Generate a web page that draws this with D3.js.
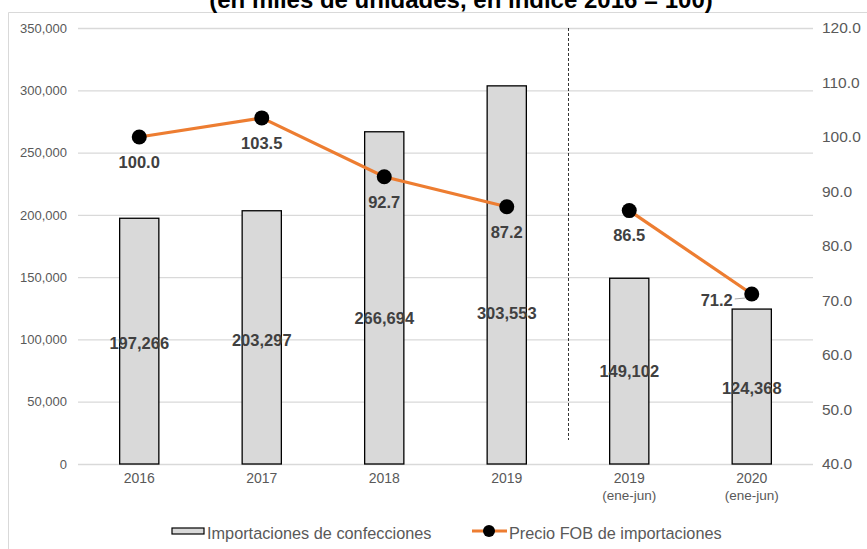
<!DOCTYPE html>
<html><head><meta charset="utf-8">
<script src="https://cdn.jsdelivr.net/npm/d3@7"></script>
<style>body{margin:0;background:#fff}svg{display:block;font-family:"Liberation Sans",Arial,sans-serif}</style>
</head><body><svg id="c" width="867" height="549"></svg>
<script>
const categories = ["2016","2017","2018","2019","2019\n(ene-jun)","2020\n(ene-jun)"];
const imports = [197266, 203297, 266694, 303553, 149102, 124368];
const price = [100.0, 103.5, 92.7, 87.2, 86.5, 71.2];
const priceSegments = [[0,1,2,3],[4,5]];
const leftTicks = [0,50000,100000,150000,200000,250000,300000,350000];
const rightTicks = [40,50,60,70,80,90,100,110,120];
const seriesNames = ["Importaciones de confecciones","Precio FOB de importaciones"];
const title = "(en miles de unidades, en índice 2016 = 100)";

const svg = d3.select("#c");
const L = 78, R = 813, T = 28, B = 464;
const x = d3.scaleBand().domain(d3.range(categories.length)).range([L, R]).paddingInner(0.68).paddingOuter(0.34);
const yL = d3.scaleLinear().domain([0,350000]).range([B,T]);
const yR = d3.scaleLinear().domain([40,120]).range([B,T]);
const cx = i => x(i) + x.bandwidth()/2;

// border
svg.append("path").attr("d","M8.5,549 V12.5 H867").attr("fill","none").attr("stroke","#d9d9d9");
// title
svg.append("text").attr("x",461).attr("y",8).attr("text-anchor","middle").attr("font-weight","bold").attr("font-size",24).attr("fill","#000").text(title);

// gridlines via left axis
const gl = svg.append("g").attr("transform",`translate(${L},0)`)
  .call(d3.axisLeft(yL).tickValues(leftTicks).tickSize(-(R-L)).tickFormat(d3.format(",")).tickPadding(11));
gl.select(".domain").remove();
gl.selectAll("line").attr("stroke","#d9d9d9").attr("stroke-width",1.3);
gl.selectAll("text").attr("fill","#595959").attr("font-size",13).attr("font-family","Liberation Sans, Arial");

const gr = svg.append("g").attr("transform",`translate(${R},0)`)
  .call(d3.axisRight(yR).tickValues(rightTicks).tickSize(0).tickFormat(d3.format(".1f")).tickPadding(9));
gr.select(".domain").remove();
gr.selectAll("text").attr("fill","#595959").attr("font-size",15.5).attr("font-family","Liberation Sans, Arial");

// dashed separator
svg.append("line").attr("x1",568.5).attr("x2",568.5).attr("y1",T).attr("y2",440)
  .attr("stroke","#000").attr("stroke-width",0.8).attr("stroke-dasharray","3,2");

// bars
svg.selectAll("rect.bar").data(imports).join("rect").attr("class","bar")
  .attr("x",(d,i)=>x(i)).attr("width",x.bandwidth())
  .attr("y",d=>yL(d)).attr("height",d=>B-yL(d))
  .attr("fill","#d9d9d9").attr("stroke","#000").attr("stroke-width",1.3);

// bar labels
const barLabelFrac = [0.49,0.49,0.44,0.40,0.50,0.49];
svg.selectAll("text.bl").data(imports).join("text").attr("class","bl")
  .attr("x",(d,i)=>cx(i)).attr("y",(d,i)=>yL(d*barLabelFrac[i])).attr("dy","0.35em")
  .attr("text-anchor","middle").attr("font-weight","bold").attr("font-size",16.5).attr("fill","#404040")
  .text(d=>d3.format(",")(d));

// line
const line = d3.line().x(i=>cx(i)).y(i=>yR(price[i]));
svg.selectAll("path.seg").data(priceSegments).join("path").attr("class","seg")
  .attr("d",line).attr("fill","none").attr("stroke","#ED7D31").attr("stroke-width",3.2);
// leader line for last label
svg.append("line").attr("x1",cx(5)-17).attr("x2",cx(5)-6).attr("y1",yR(price[5])+5).attr("y2",yR(price[5])+4)
  .attr("stroke","#a6a6a6").attr("stroke-width",1);
svg.selectAll("circle.pt").data(price).join("circle").attr("class","pt")
  .attr("cx",(d,i)=>cx(i)).attr("cy",d=>yR(d)).attr("r",7.5).attr("fill","#000");
svg.selectAll("text.pl").data(price).join("text").attr("class","pl")
  .attr("x",(d,i)=> i===5 ? cx(i)-19 : cx(i))
  .attr("y",(d,i)=> i===5 ? yR(d)+6 : yR(d)+25).attr("dy","0.35em")
  .attr("text-anchor",(d,i)=> i===5 ? "end" : "middle")
  .attr("font-weight","bold").attr("font-size",16.5).attr("fill","#404040")
  .text(d=>d3.format(".1f")(d));

// x labels
categories.forEach((c,i)=>{
  const parts = c.split("\n");
  const t = svg.append("text").attr("x",cx(i)).attr("y",483).attr("text-anchor","middle").attr("fill","#595959");
  t.append("tspan").attr("x",cx(i)).attr("font-size",14).text(parts[0]);
  if(parts[1]) t.append("tspan").attr("x",cx(i)).attr("dy",17).attr("font-size",13.5).text(parts[1]);
});

// legend
const lg = svg.append("g");
lg.append("rect").attr("x",172).attr("y",528).attr("width",32).attr("height",6).attr("fill","#d9d9d9").attr("stroke","#000").attr("stroke-width",1.2);
lg.append("text").attr("x",207).attr("y",539).attr("font-size",16.3).attr("fill","#595959").text(seriesNames[0]);
lg.append("line").attr("x1",472).attr("x2",507).attr("y1",531).attr("y2",531).attr("stroke","#ED7D31").attr("stroke-width",3.2);
lg.append("circle").attr("cx",489).attr("cy",531).attr("r",6).attr("fill","#000");
lg.append("text").attr("x",509).attr("y",539).attr("font-size",16.3).attr("fill","#595959").text(seriesNames[1]);
</script></body></html>
